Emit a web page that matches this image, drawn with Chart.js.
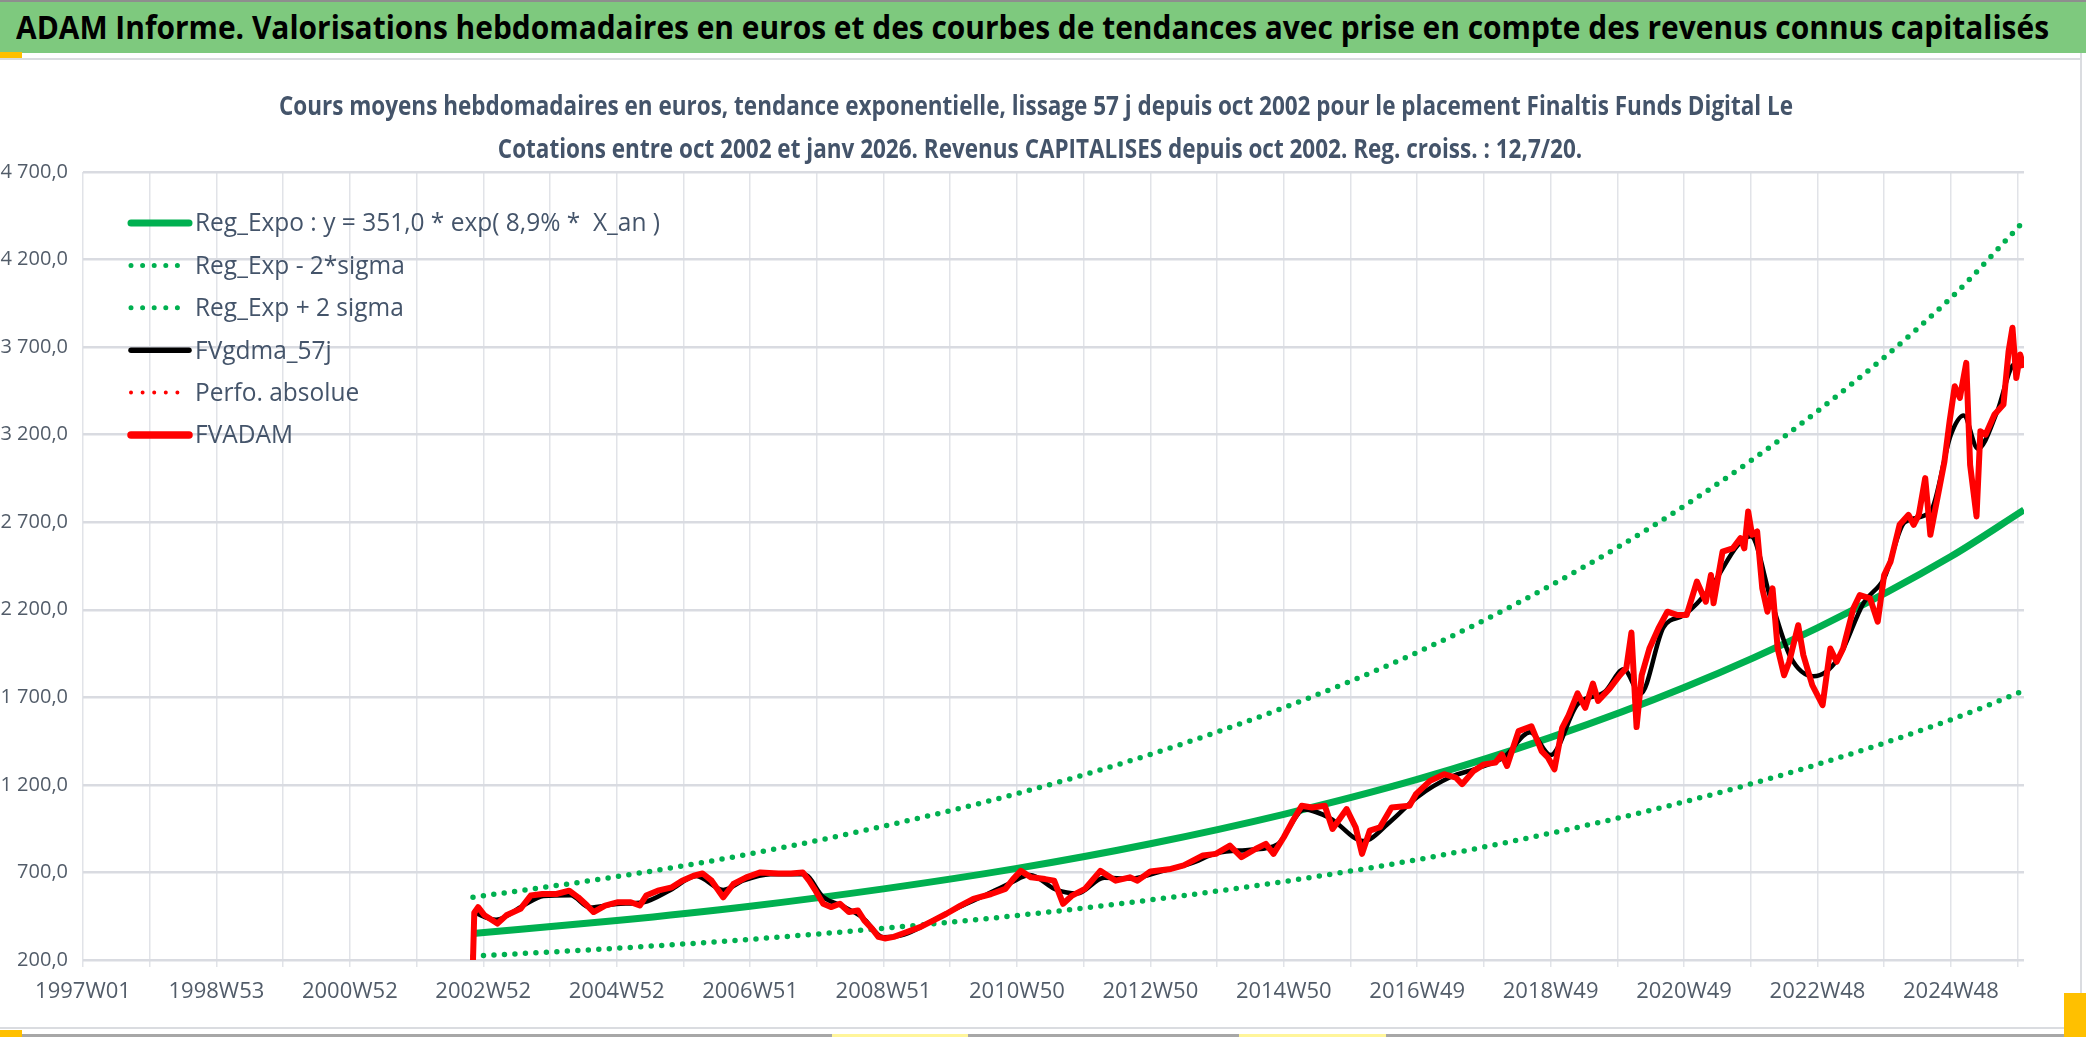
<!DOCTYPE html>
<html><head><meta charset="utf-8">
<script src="https://cdn.jsdelivr.net/npm/chart.js@4.4.1/dist/chart.umd.min.js"></script>
<style>
html,body{margin:0;padding:0;background:#fff;width:2086px;height:1037px;overflow:hidden;}
#banner{position:absolute;left:0;top:0;width:2086px;height:51px;background:#7EC97E;border-top:2px solid #8E8E8E;}
#banner span{position:absolute;left:16px;top:5px;font-family:'Open Sans',sans-serif;font-weight:bold;font-size:32px;line-height:40px;color:#000;white-space:nowrap;transform-origin:0 0;}
.ln{position:absolute;background:#DADCE0;}
.mk{position:absolute;background:#FFC000;}
#wrap{position:absolute;left:0;top:59px;width:2080px;height:969px;}
</style></head>
<body>
<div id="banner"><span id="btxt">ADAM Informe. Valorisations hebdomadaires en euros et des courbes de tendances avec prise en compte des revenus connus capitalisés</span></div>
<div class="ln" style="left:0;top:58px;width:2082px;height:2px"></div>
<div class="ln" style="left:2080px;top:53px;width:2px;height:978px"></div>
<div class="ln" style="left:0;top:1027px;width:2082px;height:2px"></div>
<div class="ln" style="left:0;top:1034px;width:2086px;height:3px;background:#A7A7A7"></div>
<div class="mk" style="left:0;top:52px;width:22px;height:6px"></div>
<div class="mk" style="left:0;top:1030px;width:22px;height:7px"></div>
<div class="mk" style="left:2064px;top:993px;width:22px;height:44px"></div>
<div class="mk" style="left:832px;top:1034px;width:136px;height:3px;background:#FFF59A"></div>
<div class="mk" style="left:1239px;top:1034px;width:147px;height:3px;background:#FFF59A"></div>
<div id="wrap"><canvas id="c"></canvas></div>
<script>
// ---- categories / tick labels ----
const tickLabels = ['1997W01','1998W53','2000W52','2002W52','2004W52','2006W51','2008W51','2010W50','2012W50','2014W50','2016W49','2018W49','2020W49','2022W48','2024W48'];
const lastWeek = '2026W01';

// ---- regression curves ----
const regWeeks = ['2002W44','2004W52','2006W51','2008W51','2010W50','2012W50','2014W50','2016W49','2018W49','2020W49','2022W48','2024W48','2026W01'];
const regExpo  = [351, 425, 507, 606, 723, 864, 1032, 1231, 1471, 1756, 2097, 2504, 2770];
const regLow   = [222, 267, 318, 381, 454, 543, 648, 773, 924, 1103, 1317, 1572, 1738];
const regHigh  = [558, 676, 806, 964, 1150, 1374, 1641, 1957, 2339, 2792, 3334, 3981, 4420];

// ---- FVADAM weekly prices ----
const fvWeeks = ['2002W44','2002W45','2002W48','2003W01','2003W11','2003W18','2003W29','2003W37','2003W46','2004W05','2004W15','2004W22','2004W29','2004W34','2004W43','2004W53','2005W10','2005W17','2005W22','2005W31','2005W42','2005W50','2006W07','2006W14','2006W21','2006W30','2006W38','2006W48','2007W07','2007W21','2007W31','2007W40','2007W45','2007W50','2008W04','2008W10','2008W17','2008W24','2008W31','2008W36','2008W42','2008W47','2008W52','2009W07','2009W14','2009W28','2009W38','2009W48','2010W06','2010W16','2010W30','2010W41','2010W47','2011W01','2011W09','2011W20','2011W27','2011W34','2011W41','2011W51','2012W11','2012W23','2012W34','2012W40','2012W50','2013W14','2013W24','2013W39','2013W49','2014W08','2014W17','2014W28','2014W36','2014W42','2014W50','2015W05','2015W12','2015W20','2015W30','2015W36','2015W47','2016W01','2016W06','2016W12','2016W20','2016W29','2016W43','2016W48','2017W07','2017W18','2017W27','2017W32','2017W41','2017W49','2018W06','2018W11','2018W15','2018W24','2018W34','2018W42','2018W47','2018W52','2019W06','2019W11','2019W18','2019W24','2019W30','2019W34','2019W43','2019W51','2020W04','2020W08','2020W12','2020W16','2020W22','2020W29','2020W36','2020W44','2020W51','2021W06','2021W13','2021W17','2021W19','2021W26','2021W34','2021W40','2021W43','2021W46','2021W49','2022W01','2022W05','2022W09','2022W13','2022W17','2022W22','2022W26','2022W33','2022W37','2022W44','2022W52','2023W06','2023W11','2023W16','2023W24','2023W29','2023W37','2023W43','2023W48','2024W01','2024W08','2024W15','2024W19','2024W23','2024W28','2024W32','2024W36','2024W43','2024W47','2024W51','2025W03','2025W08','2025W11','2025W16','2025W19','2025W23','2025W30','2025W37','2025W41','2025W44','2025W47','2025W50','2026W01'];
const fvValues = [200,470,502,455,408,455,492,568,577,577,596,558,511,474,511,530,530,511,568,596,615,653,681,694,653,558,634,672,700,694,694,700,653,596,521,502,521,474,483,426,379,332,323,332,351,389,426,464,511,549,577,606,662,709,672,662,653,521,568,606,709,653,672,653,705,720,740,797,806,853,787,834,863,806,901,995,1081,1071,1081,948,1062,958,806,939,958,1071,1081,1147,1223,1261,1242,1204,1280,1317,1327,1374,1308,1507,1535,1393,1355,1289,1526,1597,1723,1640,1779,1680,1750,1826,1867,2070,1530,1826,1979,2093,2189,2170,2170,2361,2246,2399,2237,2532,2551,2609,2551,2761,2628,2647,2322,2189,2322,1979,1826,1903,2112,1941,1769,1655,1979,1903,1979,2208,2284,2265,2132,2399,2475,2685,2742,2685,2742,2952,2628,2780,3047,3276,3477,3410,3610,3028,2733,3219,3200,3315,3372,3677,3811,3524,3658,3582];

// ---- FVgdma_57j smoothed curve ----
const gdmaWeeks = ['2002W45','2003W10','2003W31','2003W47','2004W16','2004W31','2004W52','2005W20','2005W41','2006W09','2006W30','2006W46','2007W15','2007W41','2008W04','2008W20','2008W35','2008W51','2009W15','2009W35','2010W03','2010W24','2010W45','2011W08','2011W29','2011W45','2012W14','2012W34','2013W08','2013W29','2013W50','2014W24','2014W45','2015W14','2015W34','2016W07','2016W28','2016W49','2017W23','2017W44','2018W13','2018W33','2018W49','2019W18','2019W39','2020W02','2020W15','2020W33','2020W49','2021W17','2021W38','2021W48','2022W12','2022W27','2022W45','2023W12','2023W32','2023W48','2024W12','2024W32','2024W48','2025W06','2025W17','2025W32','2025W45','2026W01'];
const gdmaValues = [470,430,510,565,570,500,520,530,600,680,600,655,690,690,560,505,440,330,345,415,495,565,640,685,600,580,670,665,710,750,810,830,860,1060,1010,880,990,1130,1245,1295,1360,1500,1370,1660,1730,1860,1720,2100,2170,2330,2570,2620,2250,1930,1820,1920,2240,2380,2700,2760,3200,3310,3120,3330,3600,3610];

const perfoWeeks = [];
const perfoValues = [];

const titleLines = [
  'Cours moyens hebdomadaires en euros, tendance exponentielle, lissage 57 j depuis oct 2002 pour le placement Finaltis Funds Digital Le',
  'Cotations entre oct 2002 et janv 2026. Revenus CAPITALISES depuis oct 2002. Reg. croiss. : 12,7/20.'
];

// ---- helpers ----
function weeksIn(y){const d=new Date(Date.UTC(y,0,1)).getUTCDay();const leap=(y%4===0&&y%100!==0)||y%400===0;return (d===4||(leap&&d===3))?53:52;}
function weekIndex(lbl){const y=+lbl.slice(0,4),w=+lbl.slice(5);let idx=0;for(let yy=1997;yy<y;yy++)idx+=weeksIn(yy);return idx+w-1;}
function toPts(weeks,vals){const n=Math.min(weeks.length,vals.length);const out=[];for(let i=0;i<n;i++)out.push({x:weekIndex(weeks[i]),y:vals[i]});return out;}
function frNum(v){return Math.round(v).toString().replace(/\B(?=(\d{3})+(?!\d))/g,' ')+',0';}

// banner fit
(function(){const sp=document.getElementById('btxt');const w=sp.getBoundingClientRect().width;sp.style.transform='scaleX('+(2033/w)+')';})();

const FONT = "'Open Sans',sans-serif";
const GREEN = '#00B050';
const TXT = '#44546A';

const titlePlugin = {
  id:'twoLineTitle',
  afterDraw(chart){
    const ctx=chart.ctx; ctx.save();
    ctx.font='bold 26px '+FONT; ctx.fillStyle=TXT; ctx.textAlign='center'; ctx.textBaseline='middle';
    const s=1514/ctx.measureText(titleLines[0]).width;
    [[1036,49],[1040,92]].forEach((p,i)=>{ctx.save();ctx.translate(p[0],p[1]);ctx.scale(s,1);ctx.fillText(titleLines[i],0,0);ctx.restore();});
    ctx.restore();
  }
};

const legendPlugin = {
  id:'sideLegend',
  afterDraw(chart){
    const ctx=chart.ctx; ctx.save();
    const x0=131,x1=189,tx=195,y0=164,dy=42.4;
    ctx.font='26px '+FONT;
    const s=465/ctx.measureText(chart.data.datasets[0].label).width;
    chart.data.datasets.forEach((ds,i)=>{
      const y=y0+i*dy;
      ctx.beginPath();
      ctx.strokeStyle=ds.borderColor; ctx.lineWidth=ds.legendWidth; ctx.lineCap='round';
      ctx.setLineDash(ds.legendDash||[]);
      ctx.moveTo(x0,y); ctx.lineTo(x1,y); ctx.stroke();
      ctx.setLineDash([]);
      ctx.fillStyle=TXT; ctx.textBaseline='middle'; ctx.textAlign='left';
      ctx.save(); ctx.translate(tx,y+1); ctx.scale(s,1); ctx.fillText(ds.label,0,0); ctx.restore();
    });
    ctx.restore();
  }
};

new Chart(document.getElementById('c'),{
  type:'line',
  data:{datasets:[
    {label:'Reg_Expo : y = 351,0 * exp( 8,9% *  X_an )',data:toPts(regWeeks,regExpo),borderColor:GREEN,borderWidth:7,cubicInterpolationMode:'monotone',pointRadius:0,order:5,legendWidth:7},
    {label:'Reg_Exp - 2*sigma',data:toPts(regWeeks,regLow),borderColor:GREEN,borderWidth:5.5,borderDash:[0,10.5],borderCapStyle:'round',cubicInterpolationMode:'monotone',pointRadius:0,order:4,legendWidth:5,legendDash:[0,11.6]},
    {label:'Reg_Exp + 2 sigma',data:toPts(regWeeks,regHigh),borderColor:GREEN,borderWidth:5.5,borderDash:[0,10.5],borderCapStyle:'round',cubicInterpolationMode:'monotone',pointRadius:0,order:3,legendWidth:5,legendDash:[0,11.6]},
    {label:'FVgdma_57j',data:toPts(gdmaWeeks,gdmaValues),borderColor:'#000000',borderWidth:4.5,cubicInterpolationMode:'monotone',pointRadius:0,order:2,legendWidth:5.5},
    {label:'Perfo. absolue',data:toPts(perfoWeeks,perfoValues),borderColor:'#FF0000',borderWidth:4,borderDash:[0,9],borderCapStyle:'round',pointRadius:0,order:1,legendWidth:4,legendDash:[0,11.6]},
    {label:'FVADAM',data:toPts(fvWeeks,fvValues),borderColor:'#FF0000',borderWidth:6,borderJoinStyle:'round',pointRadius:0,order:0,legendWidth:7.5}
  ]},
  options:{
    responsive:true,maintainAspectRatio:false,animation:false,
    layout:{padding:{left:0,right:56,top:113,bottom:0}},
    plugins:{legend:{display:false},tooltip:{enabled:false},title:{display:false}},
    scales:{
      x:{type:'linear',min:0,max:weekIndex(lastWeek),
        ticks:{stepSize:52,includeBounds:false,autoSkip:false,maxRotation:0,minRotation:0,color:'#525C69',font:{family:FONT,size:22},padding:12,
          callback:(v)=> (v%104===0 && tickLabels[v/104]) ? tickLabels[v/104] : ''},
        grid:{color:'#E1E3E8',lineWidth:1.5,tickLength:7,drawTicks:true},
        border:{display:false},
        afterFit:(s)=>{s.height=68;}},
      y:{min:200,max:4700,
        ticks:{stepSize:500,color:'#525C69',font:{family:FONT,size:20},padding:15,callback:(v)=>frNum(v)},
        grid:{color:'#D9DBE1',lineWidth:2.5,drawTicks:false},
        border:{display:false},
        afterFit:(s)=>{s.width=83;}}
    }
  },
  plugins:[titlePlugin,legendPlugin]
});
</script>
</body></html>
